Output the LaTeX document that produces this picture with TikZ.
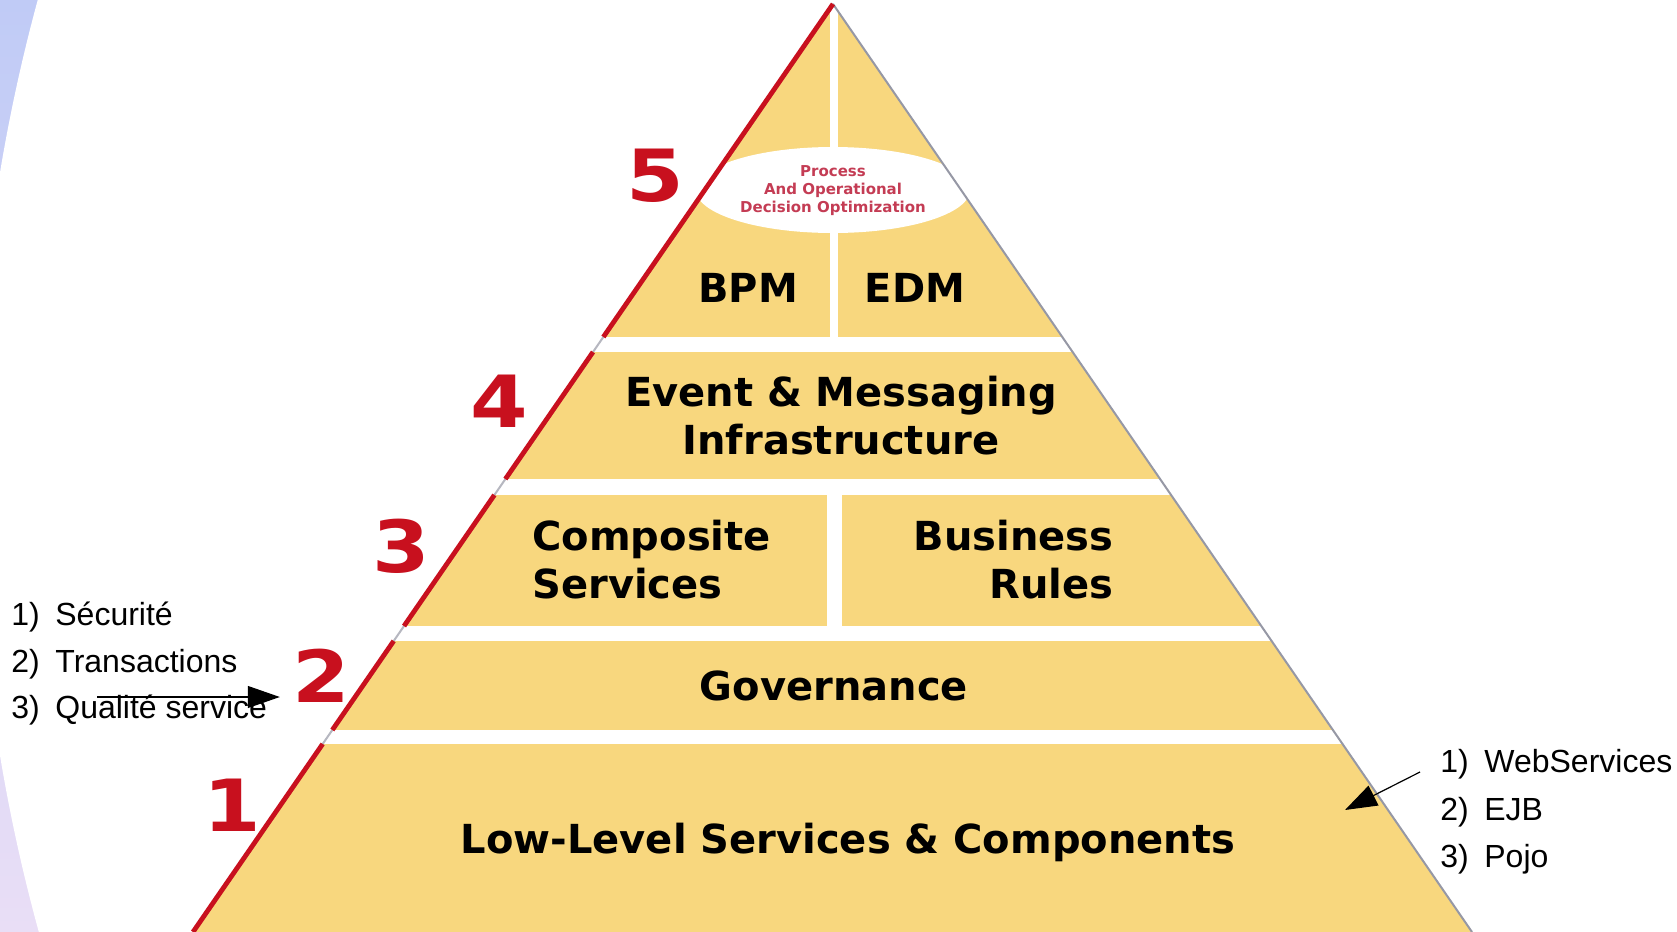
\documentclass[tikz,border=0pt]{standalone}
\usepackage{fontspec}
\setmainfont{DejaVu Sans}
\newfontfamily\listfont{Liberation Sans}
\usetikzlibrary{positioning,calc,arrows.meta}

\definecolor{pyryellow}{RGB}{248,215,126}
\definecolor{tierred}{RGB}{200,16,30}
\definecolor{procred}{RGB}{196,60,84}
\definecolor{edgegrey}{RGB}{150,152,165}
\definecolor{stripblue}{RGB}{192,203,246}
\definecolor{striplilac}{RGB}{233,222,246}

\tikzset{
  tiernum/.style={text=tierred, font=\bfseries\fontsize{36}{36}\selectfont, inner sep=0pt},
  tierlabel/.style={font=\bfseries\fontsize{20}{24}\selectfont, inner sep=0pt},
  proclabel/.style={text=procred, font=\bfseries\fontsize{7.5}{9}\selectfont, align=center, inner sep=0pt},
  listitem/.style={font=\listfont\fontsize{16}{16}\selectfont, inner sep=0pt, anchor=base west},
  gapbar/.style={fill=white},
  pointer/.style={draw=black, line width=0.6pt, -{Triangle[length=16pt,width=11pt]}},
}

\newcommand{\enumline}[2]{\makebox[22pt][l]{#1)}#2}
\newcommand{\tierdigit}[1]{\scalebox{1.15}[1]{#1}}

\begin{document}
\begin{tikzpicture}[x=0.5pt, y=-0.5pt]
    \useasboundingbox (0,0) rectangle (1677,932);
    % fond
    \shade[top color=stripblue, bottom color=striplilac] (0,0) rectangle (60,932);
    \fill[white] (1738,464) circle[radius=881pt];

    % pyramide
    \coordinate (apex) at (833,4);
    \coordinate (bl) at (193,932);
    \coordinate (br) at (1472,932);
    \fill[pyryellow] (apex) -- (bl) -- (br) -- cycle;

    % bandes blanches
    \foreach \ya/\yb in {337/352, 479/495, 626/641, 730/744}
        \fill[gapbar] (150,\ya) rectangle (1550,\yb);
    \fill[gapbar] (830,0) rectangle (838,337);
    \fill[gapbar] (827,495) rectangle (842,626);

    \begin{scope}
        \clip (apex) -- (bl) -- (br) -- cycle;
        \fill[white] (833,190) ellipse[x radius=68.5pt, y radius=21.5pt];
    \end{scope}

    % bords
    \draw[edgegrey, line width=1pt] (apex) -- (br);
    \draw[edgegrey!70, line width=1pt] (apex) -- (bl);
    \foreach \ta/\tb in {0/0.3588, 0.375/0.5119, 0.5291/0.6703, 0.6864/0.7823, 0.7974/1}
        \draw[tierred, line width=2.4pt] ($(apex)!\ta!(bl)$) -- ($(apex)!\tb!(bl)$);

    % niveaux
    \node[tiernum] (num5) at (655,176) {\tierdigit{5}};
    \node[tiernum] (num4) at (499,401) {\tierdigit{4}};
    \node[tiernum] (num3) at (401,546) {\tierdigit{3}};
    \node[tiernum] (num2) at (321,676) {\tierdigit{2}};
    \node[tiernum] (num1) at (232,805) {\tierdigit{1}};

    % textes
    \node[proclabel] (proc) at (833,191) {Process\\And Operational\\Decision Optimization};
    \node[tierlabel] (bpm) at (748,288) {BPM};
    \node[tierlabel] (edm) at (915,288) {EDM};
    \node[tierlabel, align=center] (event) at (841,416) {Event \& Messaging\\Infrastructure};
    \node[tierlabel, align=left, anchor=west] (composite) at (532,560) {Composite\\Services};
    \node[tierlabel, align=right, anchor=east] (rules) at (1114,560) {Business\\Rules};
    \node[tierlabel] (gov) at (834,686) {Governance};
    \node[tierlabel] (lowlevel) at (848,842) {Low-Level Services \& Components};

    % listes
    \node[listitem] (secu) at (11,625) {\enumline{1}{Sécurité}};
    \node[listitem] (trans) at (11,672) {\enumline{2}{Transactions}};
    \node[listitem] (qual) at (11,718) {\enumline{3}{Qualité service}};
    \node[listitem] (webs) at (1440,772) {\enumline{1}{WebServices}};
    \node[listitem] (ejb) at (1440,820) {\enumline{2}{EJB}};
    \node[listitem] (pojo) at (1440,867) {\enumline{3}{Pojo}};

    % fleches
    \coordinate (qualFrom) at (97,697);
    \coordinate (wsTip) at (1345,810);
    \draw[pointer, shorten >=6pt] (qualFrom) -- (qualFrom -| num2.west);
    \draw[pointer] ([xshift=-10pt]webs.base west) -- (wsTip);
\end{tikzpicture}
\end{document}
